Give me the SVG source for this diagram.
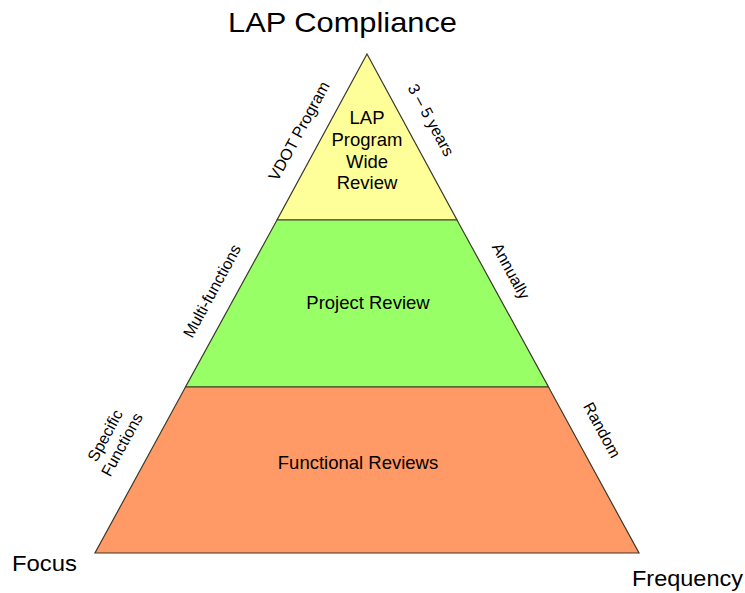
<svg xmlns="http://www.w3.org/2000/svg" width="745" height="593" viewBox="0 0 745 593">
<style>
.band{stroke:#3a3a2a;stroke-width:1.2;stroke-linejoin:miter}
.t{font-family:"Liberation Sans",Arial,sans-serif;fill:#000;text-anchor:middle}
.in{font-size:18.5px}
.side{font-size:16px}
</style>
<rect width="745" height="593" fill="#fff"/>
<g id="bands">
<g id="node-top"><polygon class="band" fill="#FFFF99" points="367,54 457,220 277,220"/>
<text class="t in" x="367" y="124">LAP</text>
<text class="t in" x="367" y="146">Program</text>
<text class="t in" x="367" y="168">Wide</text>
<text class="t in" x="367" y="189">Review</text></g>
<g id="node-middle"><polygon class="band" fill="#99FF66" points="277,220 457,220 548.5,387 185.5,387"/>
<text class="t in" x="368" y="309">Project Review</text></g>
<g id="node-bottom"><polygon class="band" fill="#FF9966" points="185.5,387 548.5,387 639,553 95,553"/>
<text class="t in" x="358" y="469">Functional Reviews</text></g>
</g>
<g id="title"><text class="t" x="342.5" y="32" font-size="28" textLength="229" lengthAdjust="spacingAndGlyphs">LAP Compliance</text></g>
<g id="axis-labels">
<text class="t" x="44.5" y="571" font-size="22" textLength="65" lengthAdjust="spacingAndGlyphs">Focus</text>
<text class="t" x="687.5" y="586" font-size="22" textLength="111" lengthAdjust="spacingAndGlyphs">Frequency</text>
</g>
<g id="side-labels">
<text class="t side" transform="translate(299,131) rotate(-61.5)" y="5.5">VDOT Program</text>
<text class="t side" transform="translate(212,291) rotate(-61.5)" y="5.5">Multi-functions</text>
<text class="t side" transform="translate(113.5,440) rotate(-61.5)"><tspan x="0" y="-4">Specific</tspan><tspan x="0" y="15">Functions</tspan></text>
<text class="t side" transform="translate(431,120) rotate(61.5)" y="5.5">3 – 5 years</text>
<text class="t side" transform="translate(511,271) rotate(61.5)" y="5.5">Annually</text>
<text class="t side" transform="translate(602,430) rotate(61.5)" y="5.5">Random</text>
</g>
</svg>
